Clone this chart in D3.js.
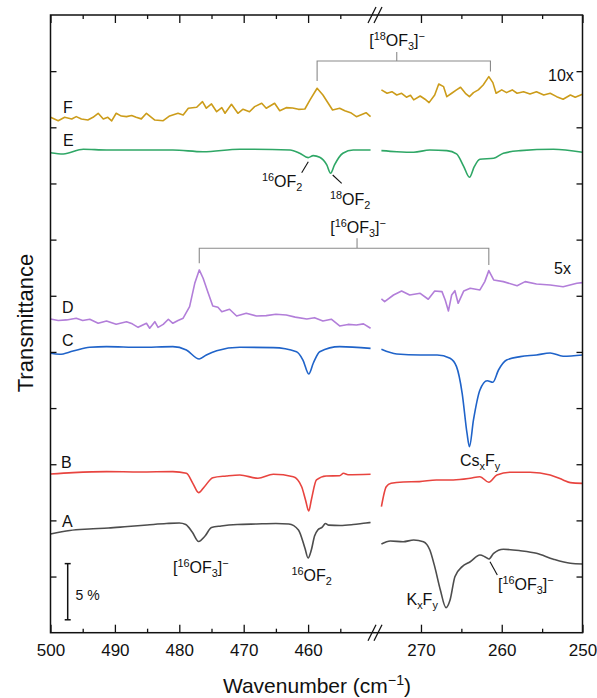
<!DOCTYPE html>
<html>
<head>
<meta charset="utf-8">
<script src="https://cdn.jsdelivr.net/npm/d3@7"></script>
<style>
  body { margin: 0; background: #fff; }
  svg { font-family: "Liberation Sans", Arial, sans-serif; }
</style>
</head>
<body>
<svg id="chart" width="597" height="698"></svg>
<script>
// spectra: [wavenumber, transmittance offset in %]
const traceA = [
  [500,8.79],[497,9.10],[494,9.23],[491,9.32],[488,9.46],[485,9.59],[482,9.72],[480,9.77],[479,9.63],
  [478,8.97],[477,8.12],[476,8.61],[475,9.37],[473.5,9.50],[471,9.63],[468,9.68],[465,9.72],[463,9.68],
  [461.5,9.15],[460.5,7.54],[460,6.65],[459.5,7.36],[459,8.61],[458.5,9.15],[457.8,9.40],[457.3,9.72],
  [456.8,9.58],[455,9.55],[453,9.63],[451,9.77],[450.3,9.81],
  [274.9,7.90],[273.8,8.17],[272.2,8.10],[270.9,8.25],[269.7,8.10],[268.9,7.36],[268.3,5.88],[267.6,3.80],
  [266.9,2.23],[266.4,2.91],[265.8,4.99],[264.9,5.88],[263.9,6.32],[262.7,6.92],[262.1,6.77],[261.6,6.56],
  [261,7.07],[259.8,7.43],[257.7,7.30],[255.7,7.07],[253.6,6.54],[251.5,6.18],[250,6.12]
];
const traceB = [
  [500,14.13],[496.5,14.25],[491.3,14.34],[486.1,14.31],[481,14.34],[478.9,14.19],[477.9,13.30],[477,12.47],
  [476.1,13.00],[474.8,13.80],[472.7,13.95],[470.6,14.04],[467.8,13.75],[465.4,14.11],[462.3,13.89],
  [461,13.00],[460.4,11.82],[459.9,10.84],[459.5,11.82],[458.7,13.60],[457.2,13.95],[455.1,13.98],
  [454.5,14.20],[453.8,14.07],[450.3,14.11],
  [274.9,11.22],[274.3,13.00],[273.7,13.30],[272.2,13.42],[270.2,13.45],[268.1,13.60],[266,13.60],
  [263.9,13.75],[262.7,13.89],[261.6,13.39],[260.6,14.04],[259,14.28],[256.5,14.28],[254,14.04],
  [252.4,13.60],[251.5,13.36],[250,13.30]
];
const traceC = [
  [500,24.88],[498.6,24.79],[496.5,25.08],[493.9,25.41],[491.3,25.47],[486.1,25.41],[481,25.47],[478.9,25.17],
  [476.9,24.37],[475.8,24.73],[474.2,25.11],[470.6,25.41],[465.4,25.38],[461.8,25.02],[460.8,24.28],
  [459.9,23.04],[459.2,23.99],[458.2,25.02],[455.1,25.47],[450.3,25.32],
  [274.9,25.24],[273,24.82],[270.1,24.73],[268,24.73],[266.4,24.43],[265.6,23.69],[264.9,21.32],[264.3,17.76],
  [264,16.56],[263.5,18.94],[262.7,21.61],[261.8,22.44],[261.1,22.30],[260.4,23.39],[259.4,24.28],
  [257.7,24.58],[255.7,24.73],[254,24.90],[252.4,24.62],[250,24.73]
];
const traceD = [
  [500,27.93],[498.8,27.80],[497.5,27.85],[496,28.00],[495,27.80],[493.9,27.91],[492.6,27.55],[491.3,27.76],
  [489.8,27.46],[488.2,27.69],[487.3,27.50],[486.4,27.19],[485.1,27.55],[484.6,27.11],[483.8,27.69],
  [483.3,27.19],[482.5,27.45],[481.7,27.91],[481,27.55],[480.2,27.80],[479.4,28.00],[478.4,29.03],
  [477.6,31.11],[476.9,32.30],[476.3,31.56],[475.5,30.22],[474.8,29.09],[474,28.98],[473.4,28.58],
  [472.2,28.80],[471.1,28.20],[469.6,28.44],[468,28.20],[466.5,28.23],[465,28.35],[463.4,28.29],
  [462,28.10],[460.2,27.93],[459,28.05],[457.7,27.76],[456.4,27.91],[455.1,27.31],[453.8,27.45],
  [452.5,27.40],[451.4,27.50],[450.3,27.11],
  [274.9,29.72],[274.5,29.48],[273.4,30.07],[272.4,30.43],[271.4,30.07],[270.1,30.22],[269.1,29.69],
  [268.3,30.43],[267.4,30.37],[267,29.63],[266.6,28.65],[266.2,30.07],[265.8,30.45],[265.4,29.33],
  [264.7,30.43],[263.9,30.67],[262.7,30.52],[262.1,31.26],[261.6,32.24],[261,31.41],[259.8,31.26],
  [258.1,30.90],[257.1,31.26],[255.7,31.05],[254,30.96],[252.4,30.81],[250.7,31.11],[250,31.17]
];
const traceE = [
  [500,42.74],[498,42.63],[494.9,43.05],[491.3,42.98],[486.1,42.98],[481,42.98],[476.3,42.83],[470.6,43.05],
  [462.8,42.98],[461.3,42.69],[460,42.30],[459.2,42.48],[458.2,42.33],[457.1,41.65],[456.5,40.91],
  [455.9,41.65],[454.6,42.69],[453,42.98],[450.3,42.98],
  [274.9,42.92],[273,42.83],[270.9,42.78],[268.9,42.98],[266.8,42.92],[265.6,42.63],[264.7,41.50],
  [264,40.55],[263.4,41.50],[262.7,42.15],[261,42.24],[259.8,42.69],[257.7,42.92],[253.6,43.05],[250,42.78]
];
const traceF = [
  [500,45.89],[498.8,45.59],[497.8,45.89],[496.7,45.74],[496,45.95],[495.2,45.74],[494.2,45.65],[493.4,45.89],
  [492.6,46.25],[491.8,45.74],[491.1,45.89],[490.5,45.57],[489.8,46.25],[489,46.00],[488.2,45.95],
  [487.4,46.05],[486.7,45.89],[485.9,45.75],[485.1,46.25],[483.8,45.65],[482.5,45.59],[481.5,46.01],
  [480.2,46.25],[479.4,46.10],[478.6,46.70],[477.3,46.79],[476.4,47.28],[475.8,46.70],[475,47.08],
  [474.2,46.39],[473.4,46.75],[472.9,46.25],[471.9,47.05],[470.9,46.25],[470.1,46.61],[469.1,46.39],
  [468.3,46.84],[467.2,47.14],[466.5,46.70],[465.2,47.14],[464.4,46.48],[463.4,46.75],[462.4,46.72],
  [461.5,46.60],[460.5,46.63],[459.7,47.44],[458.6,48.48],[457.7,47.88],[456.2,46.54],[455.1,46.70],
  [454.3,46.48],[453.4,46.30],[452.5,45.95],[451,46.30],[450.3,45.95],
  [274.9,48.33],[274.2,48.03],[273.6,48.17],[273,47.88],[272.4,48.03],[271.8,47.68],[271.3,47.85],
  [270.9,47.44],[270.1,47.79],[269.5,47.50],[269,47.20],[268.3,47.88],[267.8,48.86],[267.2,48.62],
  [266.8,47.73],[266.2,48.03],[265.6,48.33],[265.1,48.57],[264.5,48.03],[264,47.73],[263.5,48.09],
  [262.9,48.33],[262.3,48.77],[261.6,49.51],[261.1,48.98],[260.7,48.03],[260,48.33],[259.4,48.09],
  [258.7,48.33],[258.1,48.03],[257.3,48.17],[256.5,47.97],[255.7,48.17],[254.8,47.88],[254,48.03],
  [253.2,47.73],[252.4,47.50],[251.5,47.88],[250.9,47.68],[250,47.94]
];

const traces = [
  { name: "A", data: traceA, color: "#4d4d4d", label: [62, 9.4], smooth: true },
  { name: "B", data: traceB, color: "#e8443f", label: [61, 14.7], smooth: true },
  { name: "C", data: traceC, color: "#1f63c9", label: [62, 25.5], smooth: true },
  { name: "D", data: traceD, color: "#b27ed9", label: [62, 28.5], smooth: false },
  { name: "E", data: traceE, color: "#2fa766", label: [63, 43.3], smooth: true },
  { name: "F", data: traceF, color: "#cc9c1a", label: [63, 46.3], smooth: false }
];

const leftTicks = [500, 490, 480, 470, 460];
const leftMinor = [495, 485, 475, 465, 455];
const rightTicks = [270, 260, 250];
const rightMinor = [265, 255];
const yTicks = [5, 10, 15, 20, 25, 30, 35, 40, 45, 50];

const svg = d3.select("#chart");
const pTop = 15, pBottom = 632.7, pLeft = 50.5, pRight = 582.5;

const xL = d3.scaleLinear().domain([500, 450]).range([pLeft, 372.5]);
const xR = d3.scaleLinear().domain([275, 250]).range([380.6, pRight]);
const x = (w) => w > 400 ? xL(w) : xR(w);
const y = d3.scaleLinear().domain([0, 55]).range([pBottom, pTop]);

// rich text with sub/superscripts
function rich(sel, px, py, parts, size, anchor) {
  const t = sel.append("text").attr("x", px).attr("y", py)
    .attr("font-size", size).attr("text-anchor", anchor || "start").attr("fill", "#111");
  let shift = 0;
  parts.forEach(([str, kind]) => {
    const target = kind === "sup" ? -0.38 * size : kind === "sub" ? 0.24 * size : 0;
    const ts = t.append("tspan").text(str).attr("dy", target - shift);
    if (kind) ts.attr("font-size", size * 0.68);
    shift = target;
  });
  return t;
}

// traces
traces.forEach(tr => {
  const line = d3.line()
    .x(d => x(d[0]))
    .y(d => y(d[1]))
    .curve(tr.smooth ? d3.curveMonotoneX : d3.curveLinear);
  [tr.data.filter(d => d[0] > 400), tr.data.filter(d => d[0] < 400)].forEach(seg => {
    svg.append("path").datum(seg)
      .attr("fill", "none")
      .attr("stroke", tr.color)
      .attr("stroke-width", 1.6)
      .attr("stroke-linejoin", "round")
      .attr("d", line);
  });
  svg.append("text").attr("x", tr.label[0]).attr("y", y(tr.label[1]))
    .attr("font-size", 16).attr("fill", "#111").text(tr.name);
});

// axes: ticks point inward
function xAxes(scale, major, minor) {
  svg.append("g").attr("transform", `translate(0,${pBottom})`)
    .call(d3.axisBottom(scale).tickValues(major).tickSize(-8).tickPadding(11).tickFormat(d3.format("d")))
    .call(g => g.select(".domain").remove())
    .call(g => g.selectAll("text").attr("font-size", 17).attr("font-family", null).attr("fill", "#111"));
  svg.append("g").attr("transform", `translate(0,${pBottom})`)
    .call(d3.axisBottom(scale).tickValues(minor).tickSize(-4).tickFormat(""))
    .call(g => g.select(".domain").remove());
  svg.append("g").attr("transform", `translate(0,${pTop})`)
    .call(d3.axisTop(scale).tickValues(major).tickSize(-8).tickFormat(""))
    .call(g => g.select(".domain").remove());
  svg.append("g").attr("transform", `translate(0,${pTop})`)
    .call(d3.axisTop(scale).tickValues(minor).tickSize(-4).tickFormat(""))
    .call(g => g.select(".domain").remove());
}
xAxes(xL, leftTicks, leftMinor);
xAxes(xR, rightTicks, rightMinor);

svg.append("g").attr("transform", `translate(${pLeft},0)`)
  .call(d3.axisLeft(y).tickValues(yTicks).tickSize(-6).tickFormat(""))
  .call(g => g.select(".domain").remove());
svg.append("g").attr("transform", `translate(${pRight},0)`)
  .call(d3.axisRight(y).tickValues(yTicks).tickSize(-6).tickFormat(""))
  .call(g => g.select(".domain").remove());
svg.selectAll(".tick line").attr("stroke", "#111").attr("stroke-width", 1.3);

svg.append("rect").attr("x", pLeft).attr("y", pTop)
  .attr("width", pRight - pLeft).attr("height", pBottom - pTop)
  .attr("fill", "none").attr("stroke", "#111").attr("stroke-width", 1.5);

// axis break marks
[pTop, pBottom].forEach(by => {
  [368, 374].forEach(bx => {
    svg.append("line").attr("x1", bx).attr("y1", by + 8).attr("x2", bx + 8).attr("y2", by - 8)
      .attr("stroke", "#111").attr("stroke-width", 1.3);
  });
});

// axis titles
rich(svg, 317, 693, [["Wavenumber (cm", ""], ["−1", "sup"], [")", ""]], 21, "middle");
svg.append("text").attr("transform", "translate(33,323) rotate(-90)")
  .attr("text-anchor", "middle").attr("font-size", 22).attr("fill", "#111").text("Transmittance");

// scale bar 5 %
const bar = [1.15, 6.15];
const barX = 67.7;
svg.append("line").attr("x1", barX).attr("x2", barX).attr("y1", y(bar[0])).attr("y2", y(bar[1]))
  .attr("stroke", "#111").attr("stroke-width", 1.5);
bar.forEach(v => svg.append("line").attr("x1", barX - 3).attr("x2", barX + 3)
  .attr("y1", y(v)).attr("y2", y(v)).attr("stroke", "#111").attr("stroke-width", 1.5));
svg.append("text").attr("x", 75.5).attr("y", 600).attr("font-size", 14).attr("fill", "#111").text("5 %");

// multiplier labels
svg.append("text").attr("x", 548).attr("y", 81).attr("font-size", 16).attr("fill", "#111").text("10x");
svg.append("text").attr("x", 554).attr("y", 274).attr("font-size", 16).attr("fill", "#111").text("5x");

// brackets
function bracket(l, r, c, h, lb, rb, ct) {
  const g = svg.append("g").attr("stroke", "#8a8a8a").attr("stroke-width", 1.1).attr("fill", "none");
  g.append("path").attr("d",
    `M${x(l)},${y(lb)}V${y(h)}H${x(r)}V${y(rb)}M${x(c)},${y(h)}V${y(ct)}`);
}
bracket(458.6, 261.4, 273, 50.91, 49.13, 49.97, 51.71);
bracket(476.9, 261.6, 452.4, 34.23, 32.89, 32.74, 35.12);

const ion = (iso) => [["[", ""], [iso, "sup"], ["OF", ""], ["3", "sub"], ["]", ""], ["−", "sup"]];
const of2 = (iso) => [[iso, "sup"], ["OF", ""], ["2", "sub"]];
rich(svg, 397, 46, ion("18"), 16, "middle");
rich(svg, 358, 233, ion("16"), 16, "middle");
rich(svg, 262, 187, of2("16"), 16);
rich(svg, 330, 205, of2("18"), 16);
rich(svg, 173, 573, ion("16"), 16);
rich(svg, 291.5, 581, of2("16"), 16);
rich(svg, 460, 466, [["Cs", ""], ["x", "sub"], ["F", ""], ["y", "sub"]], 16);
rich(svg, 406.5, 605, [["K", ""], ["x", "sub"], ["F", ""], ["y", "sub"]], 16);
rich(svg, 498, 590, ion("16"), 16);

// leader lines
const leaders = [[308.3, 161.7, 301.7, 172.7], [332.7, 175, 341.7, 183.3], [490, 561.7, 497.3, 575]];
leaders.forEach(([x1, y1, x2, y2]) => svg.append("line")
  .attr("x1", x1).attr("y1", y1).attr("x2", x2).attr("y2", y2)
  .attr("stroke", "#111").attr("stroke-width", 1.1));
</script>
</body>
</html>
